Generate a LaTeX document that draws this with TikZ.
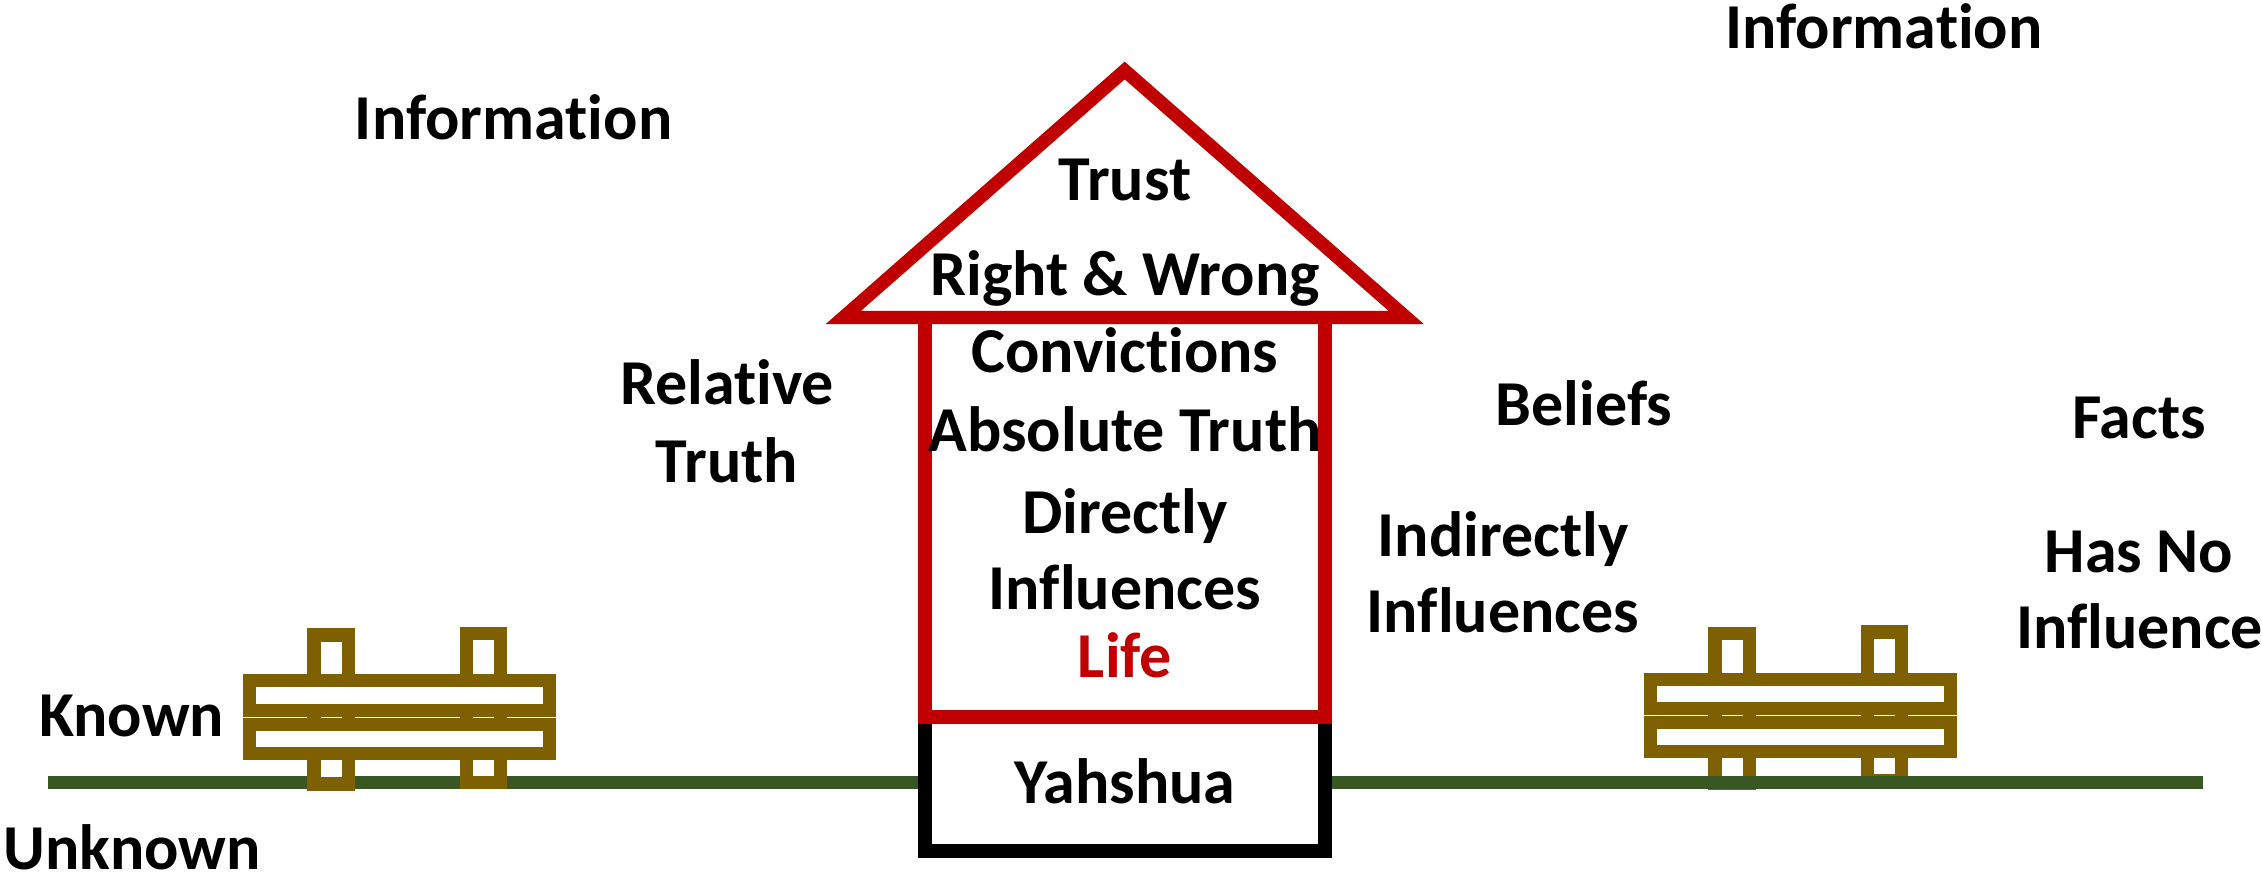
\documentclass[tikz,border=0pt]{standalone}
\usepackage{fontspec}
\setmainfont{Carlito}[Ligatures=NoCommon]
\definecolor{housered}{HTML}{C00000}
\definecolor{groundgreen}{HTML}{385723}
\definecolor{fencebrown}{HTML}{7F6000}
\tikzset{
  label/.style={font=\bfseries\fontsize{18.2}{20}\selectfont,anchor=base,inner sep=0pt},
  wall/.style={line width=0.133cm,miter limit=10},
  wood/.style={draw=fencebrown,fill=white,line width=0.133cm}
}
\begin{document}
\begin{tikzpicture}[x=0.01cm,y=-0.01cm]
  \useasboundingbox (0,0) rectangle (2262,876);
  % right fence goes under the ground line
  \draw[wood] (1715,633.5) rectangle (1749.3,783);
  \draw[wood] (1867.5,632) rectangle (1901.5,781);
  \draw[wood] (1650.5,679.5) rectangle (1950.5,708.5);
  \draw[wood] (1650.5,722.7) rectangle (1950.5,751.7);
  \draw[groundgreen,line width=0.133cm] (48,782.7)--(2203,782.7);
  % left fence
  \draw[wood] (314,635) rectangle (348.5,784);
  \draw[wood] (466.5,633.7) rectangle (500.5,782.7);
  \draw[wood] (249.5,680.8) rectangle (549.5,710.2);
  \draw[wood] (249.5,724.2) rectangle (549.5,753.5);
  % house
  \draw[wall,fill=white] (925,717)--(925,851)--(1325,851)--(1325,717);
  \draw[wall,housered] (925,317.5)--(925,717)--(1325,717)--(1325,317.5);
  \draw[wall,housered] (843.3,317.5)--(1124.7,70.5)--(1406.2,317.5)--cycle;
  % texts
  \node[label] (trust) at (1125,201){Trust};
  \node[label] (rightwrong) at (1125,296){Right \& Wrong};
  \node[label] (convictions) at (1125,373){Convictions};
  \node[label] (absolute) at (1125,451.5){Absolute Truth};
  \node[label] (directly) at (1125,534){Directly};
  \node[label] (influences) at (1125,610){Influences};
  \node[label,text=housered] (life) at (1125,677.7){Life};
  \node[label] (yahshua) at (1125,804){Yahshua};
  \node[label] (infoleft) at (513.6,140){Information};
  \node[label] (inforight) at (1884,49){Information};
  \node[label] (relative) at (727,405){Relative};
  \node[label] (truth) at (727,482){Truth};
  \node[label] (beliefs) at (1584,425.5){Beliefs};
  \node[label] (indirectly) at (1503,557){Indirectly};
  \node[label] (indinfluences) at (1503,633){Influences};
  \node[label] (facts) at (2139,438.5){Facts};
  \node[label] (hasno) at (2139,573){Has No};
  \node[label] (influence) at (2139.6,648){Influence};
  \node[label] (known) at (131.6,736){Known};
  \node[label] (unknown) at (132,869){Unknown};
\end{tikzpicture}
\end{document}
